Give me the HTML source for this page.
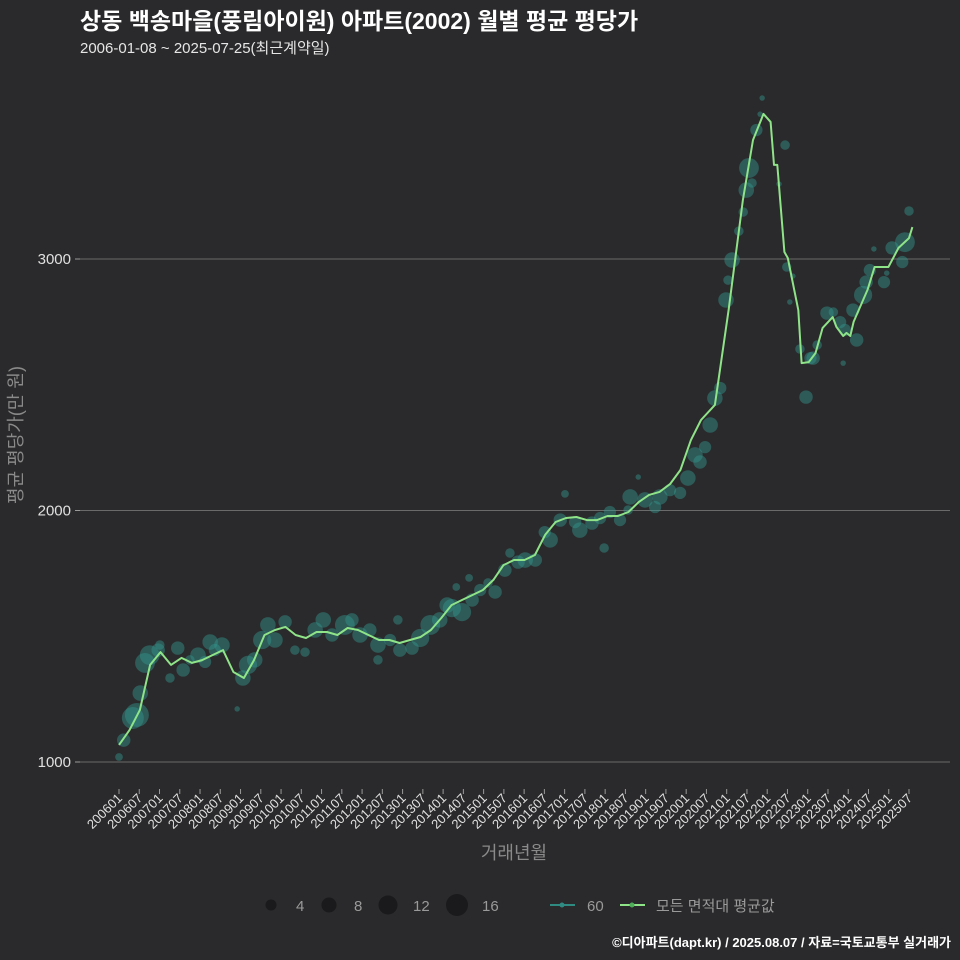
<!DOCTYPE html>
<html><head><meta charset="utf-8">
<style>
html,body{margin:0;padding:0;background:#2a292b;}
svg{display:block;font-family:"Liberation Sans","Noto Sans CJK KR",sans-serif;}
</style></head>
<body>
<svg id="chart" width="960" height="960" viewBox="0 0 960 960">
<rect width="960" height="960" fill="#2a292b"/>
<text x="80" y="29" fill="#ffffff" font-size="23" font-weight="bold">상동 백송마을(풍림아이원) 아파트(2002) 월별 평균 평당가</text>
<text x="80" y="53" fill="#e6e6e6" font-size="15">2006-01-08 ~ 2025-07-25(최근계약일)</text>
<g id="grid"></g>
<g id="yaxis"></g>
<g id="xaxis"></g>
<g id="bubbles"></g>
<g id="line"></g>
<text transform="translate(22,435) rotate(-90)" text-anchor="middle" fill="#8a8a8a" font-size="18">평균 평당가(만 원)</text>
<text x="514" y="859" text-anchor="middle" fill="#8a8a8a" font-size="18">거래년월</text>
<g>
<circle cx="271" cy="905" r="5.5" fill="#1a191b"/>
<text x="296" y="911" fill="#9a9a9a" font-size="15">4</text>
<circle cx="329" cy="905" r="7.5" fill="#1a191b"/>
<text x="354" y="911" fill="#9a9a9a" font-size="15">8</text>
<circle cx="388" cy="905" r="9.5" fill="#1a191b"/>
<text x="413" y="911" fill="#9a9a9a" font-size="15">12</text>
<circle cx="457" cy="905" r="11" fill="#1a191b"/>
<text x="482" y="911" fill="#9a9a9a" font-size="15">16</text>
<line x1="550" y1="905" x2="575" y2="905" stroke="#2f8a82" stroke-width="2"/>
<circle cx="562" cy="905" r="2.5" fill="#2f8a82"/>
<text x="587" y="911" fill="#9a9a9a" font-size="15">60</text>
<line x1="620" y1="905" x2="645" y2="905" stroke="#8fe388" stroke-width="2"/>
<circle cx="632" cy="905" r="2.5" fill="#4fae5a"/>
<text x="656" y="911" fill="#9a9a9a" font-size="15">모든 면적대 평균값</text>
</g>
<text x="951" y="947" text-anchor="end" fill="#ffffff" font-size="13" font-weight="bold">©디아파트(dapt.kr) / 2025.08.07 / 자료=국토교통부 실거래가</text>
</svg>
<script>
// average line (month index from 2006-01, value 만원/평)
const lineMonths = [0,3.1,6.2,9.2,12.3,15.4,18.5,21.6,24.6,27.7,30.8,33.9,37,40,43.1,46.2,49.3,52.3,55.4,58.5,61.6,64.7,67.7,70.8,73.9,77,80.1,83.1,86.2,89.3,92.4,95.5,98.5,101.6,104.7,107.8,110.9,113.9,117,120.1,123.2,126.2,129.3,132.4,135.5,138.6,141.6,144.7,147.8,150.9,154,157,160.1,163.2,166.3,169.4,172.4,176.5,180.6,184.8,187.8,190.9,193,194,195,197.1,198.1,201.2,202.2,204.3,206.3,208.4,211.4,212.5,214.5,215.5,216.6,217.6,221.7,223.8,227.9,230.9,234,235];
const lineValues = [1068,1127,1207,1386,1437,1386,1414,1394,1405,1425,1445,1358,1334,1405,1505,1525,1537,1505,1493,1517,1517,1505,1533,1525,1505,1485,1485,1473,1485,1497,1525,1573,1624,1644,1664,1684,1724,1783,1803,1803,1823,1903,1954,1970,1974,1962,1962,1978,1978,1994,2034,2062,2074,2105,2161,2280,2360,2420,2800,3235,3473,3577,3545,3374,3374,3028,3004,2797,2586,2590,2626,2726,2769,2730,2694,2706,2694,2750,2877,2968,2968,3044,3083,3127];
// transactions bubbles (60㎡ type)
const dotMonths = [0,1.4,4.1,5.3,6.3,7.7,9.1,11.6,12.1,15.1,17.4,19,21,23.4,25.5,27,28.4,30.5,35,36.7,38.2,40.2,42.4,44.1,46.2,49.2,52.1,55.1,58.1,60.5,63.1,66.9,69,71.4,74.3,76.7,76.7,80.3,82.6,83.2,86.8,89.2,92.2,95,97.2,98.6,99.9,101.6,103.7,104.6,107,109.3,111.4,114.3,115.8,118.2,120.3,123.3,126.1,127.7,130.7,132.1,135.1,136.5,140.1,142.5,143.7,145.4,148.4,150.8,151.4,153.8,155.8,158.8,160.2,163.2,166.2,168.5,170.6,172.1,173.6,175.1,176.5,178.1,179.8,180.4,181.6,183.6,184.9,185.8,186.6,187.5,188.8,189.9,190.5,197.3,195.5,197.8,199.6,198.7,201.7,203.5,204.8,205.6,206.8,209.7,211.6,213.6,215,214.5,218.5,217.4,220.4,221.3,222.4,223.6,226.6,227.4,229,232,232.8,234];
const dotValues = [1020,1087,1175,1187,1274,1394,1425,1445,1465,1334,1453,1366,1406,1425,1398,1477,1445,1465,1211,1334,1386,1406,1485,1545,1485,1557,1445,1437,1525,1565,1505,1545,1565,1505,1525,1465,1406,1485,1565,1445,1453,1493,1545,1565,1624,1612,1696,1596,1732,1644,1684,1712,1676,1763,1831,1795,1803,1803,1914,1883,1962,2066,1954,1922,1950,1970,1851,1994,1962,2002,2054,2133,2042,2014,2054,2081,2070,2129,2221,2193,2252,2340,2447,2487,2837,2916,2996,3111,3187,3274,3362,3302,3513,3576,3640,3453,3298,2968,2932,2829,2642,2451,2606,2606,2658,2785,2789,2749,2718,2586,2678,2797,2857,2908,2956,3040,2908,2944,3044,2988,3067,3191];
const dotCounts = [2,6,16,19,8,13,13,6,3,3,6,6,3,8,5,8,5,8,1,8,11,8,11,8,8,6,3,3,8,8,6,13,6,8,6,8,3,5,3,6,6,11,13,8,8,11,2,11,2,6,5,3,6,6,3,6,8,6,5,8,6,2,5,8,6,5,3,5,5,3,8,1,8,5,8,5,5,8,8,6,5,8,8,5,8,3,8,3,3,8,13,3,5,1,1,3,1,3,1,1,3,6,5,6,3,6,3,5,5,1,6,6,11,6,5,1,5,1,6,5,13,3];
const yTicks = [1000,2000,3000];

const NS = 'http://www.w3.org/2000/svg';
const X0 = 119, XPM = (909-119)/234;
function xScale(m){ return X0 + m*XPM; }
function yScale(v){ return 762 - (v-1000)*0.2515; }
function mk(tag, attrs, parent){
  const e = document.createElementNS(NS, tag);
  for (const k in attrs) e.setAttribute(k, attrs[k]);
  parent.appendChild(e); return e;
}
const grid = document.getElementById('grid');
const yaxis = document.getElementById('yaxis');
yTicks.forEach(t=>{
  const y = yScale(t);
  const g = mk('line',{x1:80,x2:950,y1:y,y2:y,stroke:'#6a6a6a','stroke-width':1},grid);
  
  
  const tk = mk('line',{x1:75,x2:80,y1:y,y2:y,stroke:'#9a9a9a','stroke-width':1},yaxis);
  
  
  const lb = mk('text',{x:71,y:y+5,'text-anchor':'end',fill:'#e0e0e0','font-size':15},yaxis);
  lb.textContent = t;
  
  
});
const xaxis = document.getElementById('xaxis');
for (let i=0;i<=39;i++){
  const m = i*6;
  const yr = 2006 + Math.floor(m/12), mo = (m%12)+1;
  const lbl = yr + (mo<10?'0':'') + mo;
  const x = xScale(m);
  const tk = mk('line',{x1:x,x2:x,y1:789,y2:794,stroke:'#9a9a9a','stroke-width':1},xaxis);
  
  
  const t = mk('text',{transform:'translate('+(x+4)+',799) rotate(-45)','text-anchor':'end',fill:'#e0e0e0','font-size':13},xaxis);
  t.textContent = lbl;
  
  
}
const bub = document.getElementById('bubbles');
dotMonths.forEach((m,i)=>{
  const c = mk('circle',{cx:xScale(m),cy:yScale(dotValues[i]),r:2.75*Math.sqrt(dotCounts[i]),fill:'#33978d','fill-opacity':0.45},bub);
  
  
});
const lg = document.getElementById('line');
const d = lineMonths.map((m,i)=>(i?'L':'M')+xScale(m).toFixed(1)+','+yScale(lineValues[i]).toFixed(1)).join(' ');
const p = mk('path',{d:d,fill:'none',stroke:'#8fe388','stroke-width':2,'stroke-linejoin':'round'},lg);


</script>
</body></html>
